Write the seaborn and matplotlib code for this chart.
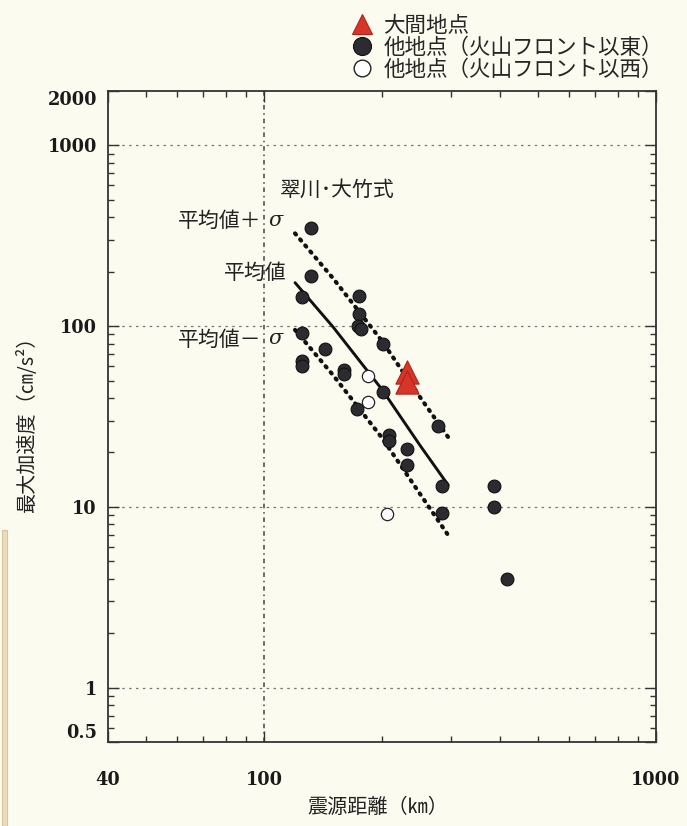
import matplotlib
matplotlib.use("Agg")
import matplotlib.pyplot as plt
from matplotlib.lines import Line2D
from matplotlib.patches import Rectangle
from matplotlib.ticker import FixedLocator, FixedFormatter, NullFormatter
import pandas as pd
import seaborn as sns

# ---- observations: hypocentral distance (km) vs. peak ground acceleration (cm/s^2)
oma_dist = [232, 232]
oma_pga = [56, 49]

east_dist = [132, 132, 125, 175, 175, 174, 177, 125, 201, 143, 125, 125, 160,
             160, 201, 173, 278, 208, 208, 231, 231, 284, 284, 387, 387, 416]
east_pga = [350, 190, 145, 147, 117, 100, 97, 92, 80, 75, 64, 60, 57,
            54, 43, 35, 28, 25, 23, 21, 17, 13, 9.2, 13, 10, 4.0]

west_dist = [184, 184, 206]
west_pga = [53, 38, 9.1]

# ---- Midorikawa-Ohtake attenuation relation (mean and +/- one sigma)
curve_dist = [120, 150, 200, 250, 295]
mean_pga = [174, 99, 44.6, 21.9, 13.2]
plus_sigma_pga = [326, 184, 82.7, 40.5, 24.3]
minus_sigma_pga = [95.3, 53.6, 24.1, 11.8, 6.97]

# ---- axis ticks
x_major = [40, 100, 1000]
x_major_labels = ["40", "100", "1000"]
x_minor = [50, 60, 70, 80, 90, 200, 300, 400, 500, 600, 700, 800, 900]
y_major = [0.5, 1, 10, 100, 1000, 2000]
y_major_labels = ["0.5", "1", "10", "100", "1000", "2000"]
y_minor = [0.6, 0.7, 0.8, 0.9, 2, 3, 4, 5, 6, 7, 8, 9, 20, 30, 40, 50, 60, 70,
           80, 90, 200, 300, 400, 500, 600, 700, 800, 900]

legend_labels = ["大間地点", "他地点（火山フロント以東）", "他地点（火山フロント以西）"]

BG = "#fcfbef"
CJK = ["Noto Sans CJK JP", "DejaVu Sans"]

sns.set_theme(style="ticks")
plt.rcParams["font.family"] = CJK

W, H = 687, 826
fig = plt.figure(figsize=(W / 100, H / 100), dpi=100, facecolor=BG)
left, right, top, bottom = 108, 656, 91, 742
ax = fig.add_axes([left / W, 1 - bottom / H, (right - left) / W, (bottom - top) / H])
ax.set_facecolor(BG)
ax.set_xscale("log")
ax.set_yscale("log")
ax.set_xlim(40, 1000)
ax.set_ylim(0.5, 2000)

# reference grid
for yv in [1, 10, 100, 1000]:
    ax.axhline(yv, color="#777777", lw=0.9, ls=(0, (2.0, 3.5)), zorder=0.5)
ax.axvline(100, color="#444444", lw=1.1, ls=(0, (3.0, 2.5, 1.0, 2.5)), zorder=0.5)

# attenuation curves
curves = pd.DataFrame({"dist": curve_dist, "mean": mean_pga,
                       "plus": plus_sigma_pga, "minus": minus_sigma_pga})
sns.lineplot(data=curves, x="dist", y="mean", ax=ax, color="#111111",
             lw=2.1, sort=False, zorder=2)
for col in ["plus", "minus"]:
    sns.lineplot(data=curves, x="dist", y=col, ax=ax, color="#111111",
                 lw=3.0, sort=False, zorder=2)
for ln in ax.lines[-2:]:
    ln.set_linestyle((0, (0.35, 1.55)))
    ln.set_dash_capstyle("round")

# observations
east = pd.DataFrame({"dist": east_dist, "pga": east_pga})
west = pd.DataFrame({"dist": west_dist, "pga": west_pga})
oma = pd.DataFrame({"dist": oma_dist, "pga": oma_pga})
sns.scatterplot(data=east, x="dist", y="pga", ax=ax, marker="o", s=85,
                color="#2b2b30", edgecolor="#111111", linewidth=0.8, zorder=3)
sns.scatterplot(data=west, x="dist", y="pga", ax=ax, marker="o", s=78,
                facecolor="white", edgecolor="#222222", linewidth=0.9, zorder=3)
sns.scatterplot(data=oma, x="dist", y="pga", ax=ax, marker="^", s=280,
                color="#d8352a", edgecolor="#b02418", linewidth=0.8, zorder=4)

# axes styling
ax.xaxis.set_major_locator(FixedLocator(x_major))
ax.xaxis.set_major_formatter(FixedFormatter(x_major_labels))
ax.xaxis.set_minor_locator(FixedLocator(x_minor))
ax.xaxis.set_minor_formatter(NullFormatter())
ax.yaxis.set_major_locator(FixedLocator(y_major))
ax.yaxis.set_major_formatter(FixedFormatter(y_major_labels))
ax.yaxis.set_minor_locator(FixedLocator(y_minor))
ax.yaxis.set_minor_formatter(NullFormatter())
ax.tick_params(which="both", direction="in", top=True, right=True,
               color="#333333", width=1.0)
ax.tick_params(which="major", length=8)
ax.tick_params(which="minor", length=4.5)
ax.tick_params(axis="x", which="major", pad=21)
ax.tick_params(axis="y", which="major", pad=8)
for lab in ax.get_xticklabels() + ax.get_yticklabels():
    lab.set_fontfamily("DejaVu Serif")
    lab.set_fontweight("bold")
    lab.set_fontsize(12.8)
    lab.set_color("#1a1a1a")
# keep the end labels of the y axis inside the frame
yticks = ax.yaxis.get_major_ticks()
yticks[0].label1.set_verticalalignment("bottom")
yticks[-1].label1.set_verticalalignment("top")
for sp in ax.spines.values():
    sp.set_color("#333333")
    sp.set_linewidth(1.3)
    sp.set_visible(True)

ax.set_xlabel("震源距離（㎞）", fontsize=14.5, color="#222222")
ax.set_ylabel("最大加速度（㎝/s²）", fontsize=14.5, color="#222222")
ax.xaxis.set_label_coords((378 - left) / (right - left), (bottom - 797) / (bottom - top))
ax.yaxis.set_label_coords((38 - left) / (right - left), (bottom - 420) / (bottom - top))


def px(x, y):
    return x / W, 1 - y / H


# curve annotations
fig.text(*px(337, 190), "翠川･大竹式", fontsize=15, ha="center", va="center", color="#222222")
fig.text(*px(261, 221), "平均値＋", fontsize=15, ha="right", va="center", color="#222222")
fig.text(*px(268, 220), "σ", fontsize=15, ha="left", va="center", color="#222222",
         family="DejaVu Serif", style="italic")
fig.text(*px(287, 273), "平均値", fontsize=15, ha="right", va="center", color="#222222")
fig.text(*px(261, 340), "平均値－", fontsize=15, ha="right", va="center", color="#222222")
fig.text(*px(268, 339), "σ", fontsize=15, ha="left", va="center", color="#222222",
         family="DejaVu Serif", style="italic")

# legend
handles = [
    Line2D([], [], ls="none", marker="^", ms=15, mfc="#d8352a", mec="#b02418", mew=0.8),
    Line2D([], [], ls="none", marker="o", ms=13, mfc="#2b2b30", mec="#111111", mew=0.8),
    Line2D([], [], ls="none", marker="o", ms=12, mfc="white", mec="#222222", mew=1.0),
]
fig.legend(handles, legend_labels, loc="upper left", bbox_to_anchor=px(351, 15),
           frameon=False, fontsize=15.5, handlelength=1.0, handletextpad=0.5,
           labelspacing=0.0, borderpad=0.0, borderaxespad=0.0)

# page edge
fig.patches.append(Rectangle((2 / W, 0), 5 / W, 1 - 530 / H, transform=fig.transFigure,
                             facecolor="#eadcc0", edgecolor="#d9c49c", lw=0.8, zorder=0))

fig.savefig("out.png", dpi=100, facecolor=BG)
